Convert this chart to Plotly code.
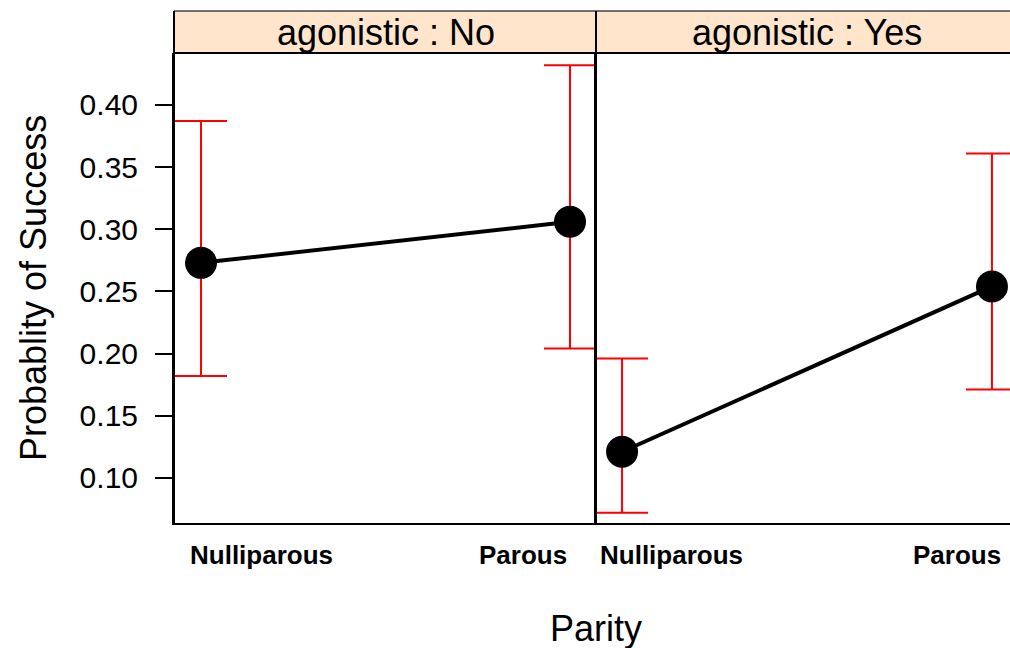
import plotly.graph_objects as go

# ---- data ----
parity = ["Nulliparous", "Parous"]
panels = ["agonistic : No", "agonistic : Yes"]
prob_no = [0.273, 0.306]
lower_no = [0.182, 0.204]
upper_no = [0.387, 0.432]
prob_yes = [0.121, 0.254]
lower_yes = [0.072, 0.171]
upper_yes = [0.196, 0.361]
yticks = [0.10, 0.15, 0.20, 0.25, 0.30, 0.35, 0.40]

FONT = "Liberation Sans, Arial, Helvetica, sans-serif"
W, H = 1010, 648
L, R, T, B = 174, 0, 53, 125
pw = W - L - R
ph = H - T - B
split = 422 / pw

fig = go.Figure()

def add_panel(prob, lo, up, xa, ya):
    xs = list(range(len(parity)))
    fig.add_trace(go.Scatter(
        x=xs, y=prob, xaxis=xa, yaxis=ya, mode="lines+markers",
        line=dict(color="black", width=4),
        marker=dict(color="black", size=32),
        error_y=dict(type="data", symmetric=False,
                     array=[u - p for u, p in zip(up, prob)],
                     arrayminus=[p - l for p, l in zip(prob, lo)],
                     color="#FF0000", thickness=2, width=26),
        showlegend=False, cliponaxis=True,
    ))

add_panel(prob_no, lower_no, upper_no, "x", "y")
add_panel(prob_yes, lower_yes, upper_yes, "x2", "y2")

yr = [0.0637, 0.4418]
fig.update_layout(
    width=W, height=H,
    margin=dict(l=L, r=R, t=T, b=B),
    paper_bgcolor="white", plot_bgcolor="white",
    font=dict(family=FONT, color="black"),
    xaxis=dict(domain=[0, split], range=[-27/369, 1 + 26/369],
               showticklabels=False, ticks="", showgrid=False, zeroline=False,
               showline=True, linecolor="black", linewidth=2, mirror=False),
    xaxis2=dict(domain=[split, 1], range=[-26/369, 1 + 18/369], anchor="y2",
                showticklabels=False, ticks="", showgrid=False, zeroline=False,
                showline=True, linecolor="black", linewidth=2),
    yaxis=dict(range=yr, tickvals=yticks, ticktext=[f"{v:.2f}" for v in yticks],
               ticks="outside", ticklen=17, tickwidth=2, tickcolor="black",
               ticklabelstandoff=11,
               tickfont=dict(size=30, family=FONT), showgrid=False, zeroline=False,
               showline=True, linecolor="black", linewidth=2),
    yaxis2=dict(range=yr, anchor="x2", showticklabels=False, ticks="",
                showgrid=False, zeroline=False,
                showline=True, linecolor="black", linewidth=2),
)

# strips
strip_top = 1 + 42 / ph
for i, (x0, x1) in enumerate([(0, split), (split, 1.02)]):
    fig.add_shape(type="rect", xref="paper", yref="paper", x0=x0, x1=x1,
                  y0=1, y1=strip_top, fillcolor="#FFE5CC",
                  line=dict(width=0), layer="below")
    fig.add_shape(type="line", xref="paper", yref="paper", x0=x0, x1=x1,
                  y0=strip_top, y1=strip_top, line=dict(color="#444444", width=1.5))
fig.add_shape(type="line", xref="paper", yref="paper", x0=0, x1=1,
              y0=1, y1=1, line=dict(color="black", width=2))
fig.add_shape(type="line", xref="paper", yref="paper", x0=0, x1=0,
              y0=0, y1=strip_top, line=dict(color="black", width=2))
fig.add_shape(type="line", xref="paper", yref="paper", x0=split, x1=split,
              y0=0, y1=strip_top, line=dict(color="black", width=2))

for xr, name in zip(["x", "x2"], panels):
    fig.add_annotation(text=name, xref=xr, x=0.5, yref="paper", y=1 + 21 / ph,
                       yanchor="middle", showarrow=False,
                       font=dict(size=36, family=FONT, color="black"))

# category labels
lab_pos = [("x", 0, "left", -13), ("x", 1, "right", -1),
           ("x2", 0, "left", -24), ("x2", 1, "right", 11)]
for xr, idx, anc, sh in lab_pos:
    fig.add_annotation(text=f"<b>{parity[idx]}</b>", xref=xr, x=idx, xanchor=anc,
                       xshift=sh, yref="paper", y=0, yanchor="middle", yshift=-32,
                       showarrow=False, font=dict(size=26, family=FONT, color="black"))

fig.add_annotation(text="Parity", xref="paper", x=split, yref="paper", y=0,
                   yanchor="middle", yshift=-105, showarrow=False,
                   font=dict(size=36, family=FONT, color="black"))
fig.add_annotation(text="Probablity of Success", xref="paper", x=0, xanchor="center",
                   xshift=-141, yref="paper", y=0.5, textangle=-90, showarrow=False,
                   font=dict(size=36, family=FONT, color="black"))

fig.write_html("out.html",
               config={"displayModeBar": False},
               post_script="document.body.style.margin='0';"
                           "document.body.style.overflow='hidden';")
